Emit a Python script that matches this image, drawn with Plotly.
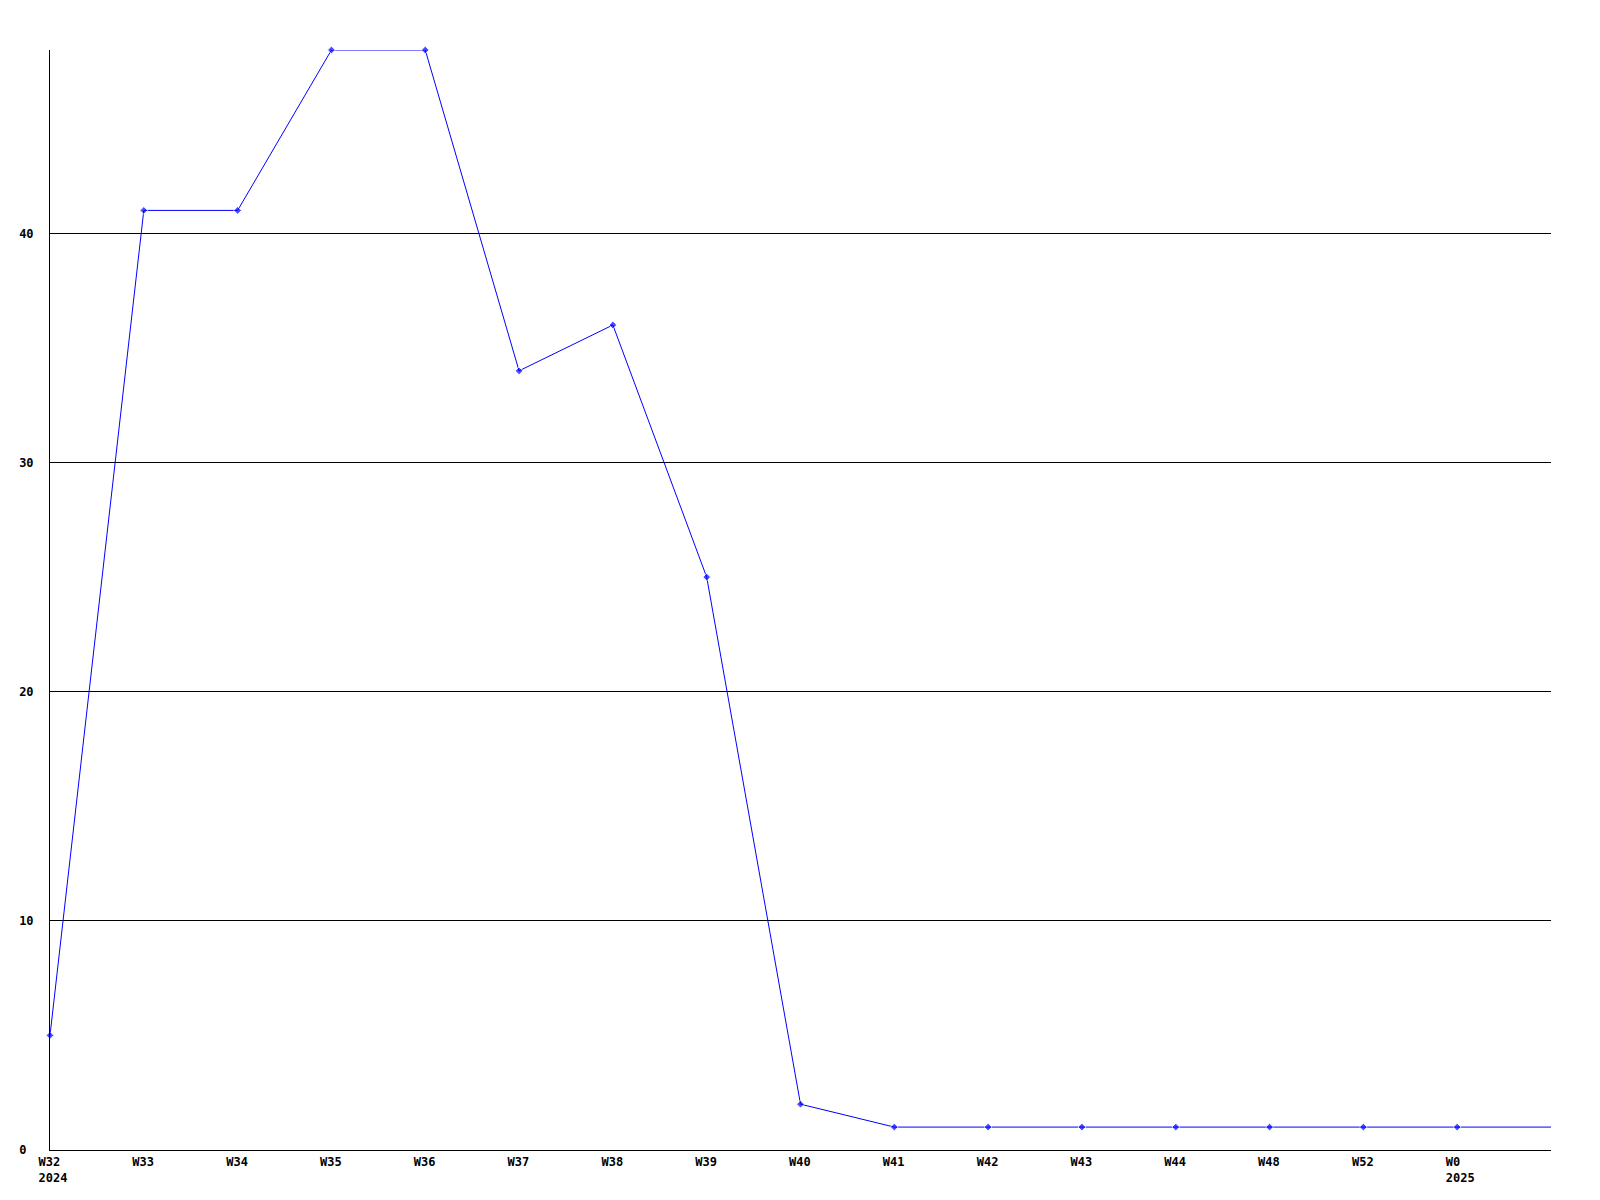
import plotly.graph_objects as go

weeks = ["W32", "W33", "W34", "W35", "W36", "W37", "W38", "W39",
         "W40", "W41", "W42", "W43", "W44", "W48", "W52", "W0"]
years = ["2024", "", "", "", "", "", "", "", "", "", "", "", "", "", "", "2025"]
values = [5, 41, 41, 48, 48, 34, 36, 25, 2, 1, 1, 1, 1, 1, 1, 1]
tail_value = 1  # line continues to right edge of plot

NB = "\u00a0"
tick_text = []
for w, y in zip(weeks, years):
    first = w + NB * (4 - len(w))
    tick_text.append(first + ("<br>" + y if y else ""))

xs = list(range(len(weeks))) + [len(weeks)]
ys = values + [tail_value]
sizes = [6] * len(weeks) + [0]

fig = go.Figure()
fig.add_trace(go.Scatter(
    x=xs, y=ys, mode="lines+markers",
    line=dict(color="#0000ff", width=1),
    marker=dict(symbol="diamond", size=sizes, color="#0000ff"),
    cliponaxis=False,
    hoverinfo="skip", showlegend=False,
))

font = dict(family="DejaVu Sans Mono", size=12, color="#000000")
fig.update_layout(
    width=1592, height=1192,
    margin=dict(l=42, r=49, t=42, b=50),
    paper_bgcolor="white", plot_bgcolor="white",
    font=font,
)
fig.update_xaxes(
    range=[0, len(weeks)],
    tickmode="array", tickvals=list(range(len(weeks))), ticktext=tick_text,
    showgrid=False, zeroline=False,
    showline=True, linecolor="black", linewidth=1,
    ticks="", ticklabelstandoff=1, ticklabelshift=3,
    tickfont=dict(family="DejaVu Sans Mono", size=12, color="black", weight="bold"),
)
yvals = [0, 10, 20, 30, 40]
fig.update_yaxes(
    range=[0, 48],
    tickmode="array", tickvals=yvals,
    ticktext=[str(v) + NB * (2 - len(str(v))) for v in yvals],
    showgrid=True, gridcolor="black", gridwidth=1,
    zeroline=False,
    showline=True, linecolor="black", linewidth=1,
    ticks="", ticklabelstandoff=13,
    tickfont=dict(family="DejaVu Sans Mono", size=12, color="black", weight="bold"),
)
fig.write_html("out.html")
